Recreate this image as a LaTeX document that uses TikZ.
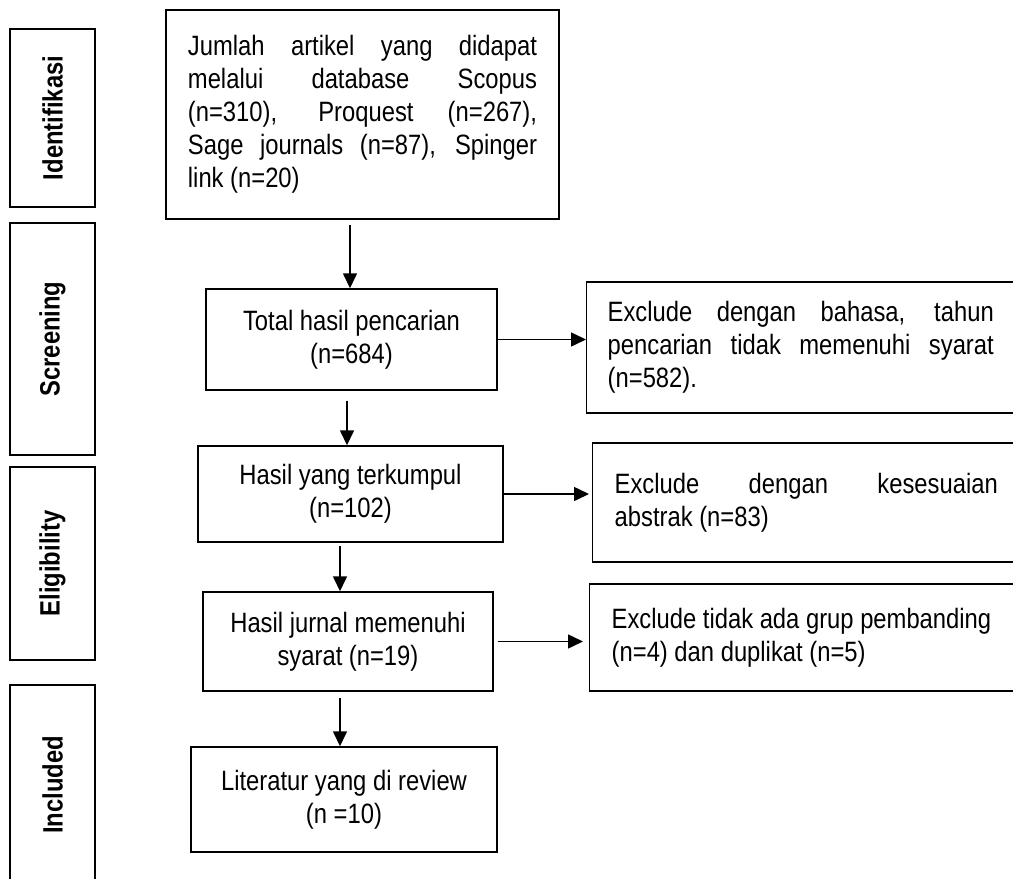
\documentclass[tikz,border=0pt]{standalone}
\usepackage{fontspec}
\setmainfont[FakeStretch=0.85]{Liberation Sans}
\usetikzlibrary{arrows.meta}
\begin{document}
\begin{tikzpicture}[x=0.025cm, y=-0.025cm,
    stage/.style={draw, line width=1pt, rotate=90, minimum height=2.125cm, inner sep=0pt,
      font=\fontsize{19.9}{23.5}\selectfont\bfseries},
    box/.style={draw, line width=1pt, align=center, inner sep=0pt,
      font=\fontsize{19.9}{23.5}\selectfont},
    exbox/.style={draw, line width=1pt, anchor=west, inner xsep=0.55cm, align=justify,
      font=\fontsize{19.9}{23.5}\selectfont},
    arr/.style={-{Triangle[length=0.375cm, width=0.35cm]}, line width=1.1pt}]
  \useasboundingbox (0,0) rectangle (1013,879);

  % stages
  \node[stage, minimum width=4.45cm] (sid) at (52.5,118) {Identifikasi};
  \node[stage, minimum width=5.8cm] (sscr) at (52.5,339) {Screening};
  \node[stage, minimum width=4.825cm] (selg) at (52.5,563.5) {Eligibility};
  \node[stage, minimum width=5cm] (sinc) at (52.5,785) {Included};

  % main flow
  \node[box, align=justify, text width=8.725cm, inner xsep=0.55cm, minimum height=5.225cm] (jumlah) at (362.5,114.5)
    {\tolerance=10000\hbadness=10000 Jumlah artikel yang didapat\linebreak melalui database Scopus\linebreak (n=310), Proquest (n=267),\linebreak Sage journals (n=87), Spinger\linebreak link (n=20)\par};
  \node[box, minimum width=7.275cm, minimum height=2.525cm] (total) at (351.5,339.5) {Total hasil pencarian\\(n=684)};
  \node[box, minimum width=7.625cm, minimum height=2.4cm] (kumpul) at (350.5,494) {Hasil yang terkumpul\\(n=102)};
  \node[box, minimum width=7.25cm, minimum height=2.475cm] (jurnal) at (348,641.5) {Hasil jurnal memenuhi\\syarat (n=19)};
  \node[box, minimum width=7.65cm, minimum height=2.625cm] (review) at (344,799.5) {Literatur yang di review\\(n =10)};

  % excluded
  \node[exbox, text width=10.65cm, inner xsep=0.525cm, minimum height=3.275cm] (exbahasa) at (586,347.5)
    {\tolerance=10000\hbadness=10000\rightskip=1cm\relax Exclude dengan bahasa, tahun\linebreak pencarian tidak memenuhi syarat\linebreak (n=582).\par};
  \node[exbox, text width=10.575cm, minimum height=2.975cm] (exabstrak) at (592,502.5)
    {\tolerance=10000\hbadness=10000\rightskip=1cm\relax Exclude dengan kesesuaian\linebreak abstrak (n=83)\par};
  \node[exbox, align=flush left, text width=10.5cm, minimum height=2.675cm] (exgrup) at (589,637.5)
    {Exclude tidak ada grup pembanding\\(n=4) dan duplikat (n=5)};

  \draw[arr, shorten <=0.125cm] (jumlah.south -| 350,0) -- (total.north -| 350,0);
  \draw[arr, shorten <=0.25cm] (total.south -| 347,0) -- (kumpul.north -| 347,0);
  \draw[arr, shorten <=0.075cm] (kumpul.south -| 340,0) -- (jurnal.north -| 340,0);
  \draw[arr, shorten <=0.15cm] (jurnal.south -| 340,0) -- (review.north -| 340,0);

  \draw[arr] (total.east) -- (total.east -| exbahasa.west);
  \draw[arr, shorten >=0.075cm] (kumpul.east) -- (kumpul.east -| exabstrak.west);
  \draw[arr, shorten <=0.1cm, shorten >=0.15cm] (jurnal.east) -- (jurnal.east -| exgrup.west);
\end{tikzpicture}
\end{document}
